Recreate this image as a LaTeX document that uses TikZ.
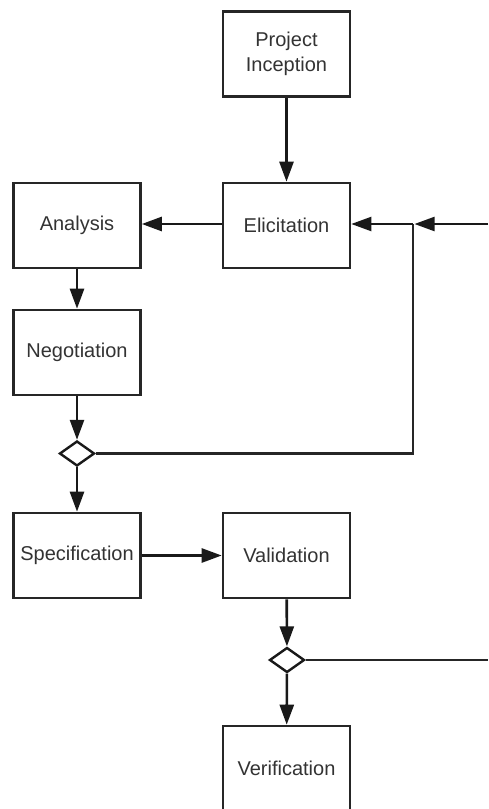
\documentclass[tikz,border=0pt]{standalone}
\usepackage{fontspec}
\setmainfont{Liberation Sans}
\usetikzlibrary{shapes.geometric,arrows.meta}
\begin{document}
\begin{tikzpicture}[x=1pt,y=-1pt,
  stepbox/.style={draw=black!85,line width=2.6pt,fill=white,minimum width=127pt,
    minimum height=85pt,inner sep=0pt,align=center,text=black!80,
    font=\fontsize{20}{24.5}\selectfont},
  gate/.style={draw=black!90,line width=2.4pt,fill=white,diamond,aspect=1.4,
    minimum width=35pt,minimum height=25pt,inner sep=0pt},
  flow/.style={draw=black!90,line width=2.6pt,-{Triangle[length=20pt,width=14pt]}},
  loop/.style={draw=black!85,line width=2.2pt}]
\useasboundingbox (0,0) rectangle (488,809);
\fill[white] (0,0) rectangle (488,809);

\node[stepbox] (inc) at (286.5,54) {Project\\Inception};
\node[stepbox] (eli) at (286.5,225.5) {Elicitation};
\node[stepbox] (ana) at (77,225.5) {Analysis};
\node[stepbox] (neg) at (77,352.5) {Negotiation};
\node[gate] (d1) at (77,453.5) {};
\node[stepbox] (spe) at (77,555.5) {Specification};
\node[stepbox] (val) at (286.5,555.5) {Validation};
\node[gate] (d2) at (287,660) {};
\node[stepbox] (ver) at (286.5,768.5) {Verification};

\coordinate (j) at (413,224);
\coordinate (jin) at (488,224);
\coordinate (jd1) at (413,453.5);
\coordinate (out2) at (488,660);

\draw[flow] (inc) -- (eli);
\draw[flow] (eli.west |- 0,224) -- (ana.east |- 0,224);
\draw[flow] (ana) -- (neg);
\draw[flow] (neg) -- (d1);
\draw[flow] (d1) -- (spe);
\draw[flow] (spe) -- (val);
\draw[flow] (val) -- (d2);
\draw[flow] (d2) -- (ver);

\draw[loop] (d1.east) -- (jd1) -- (j);
\draw[flow,line width=2.2pt] (jin) -- ([xshift=1.5pt]j);
\draw[flow,line width=2.2pt] (j) -- (eli.east |- j);
\draw[loop] (d2.east) -- (out2);
\end{tikzpicture}
\end{document}
